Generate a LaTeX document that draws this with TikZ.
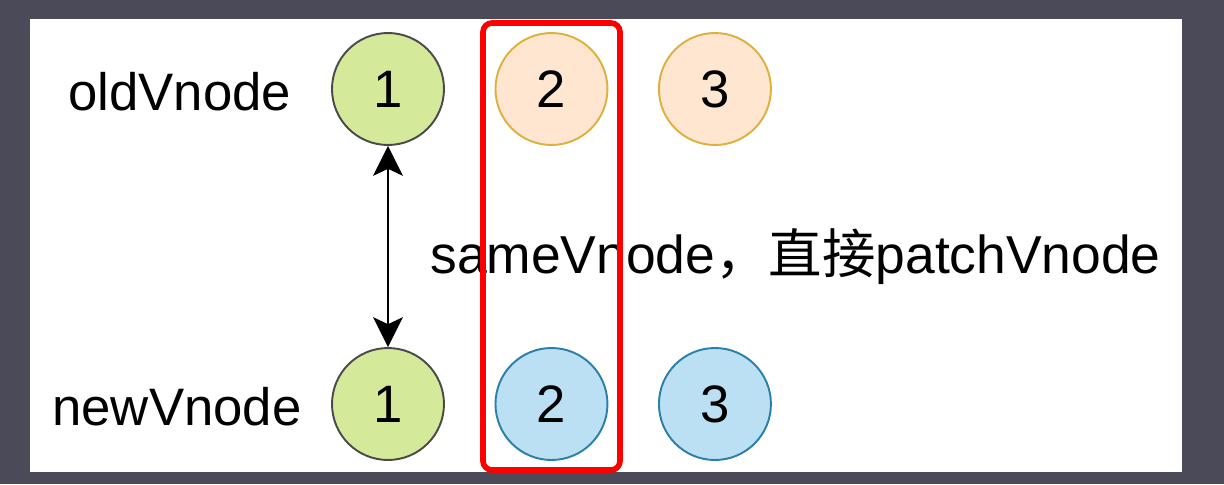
\documentclass[tikz,border=0pt]{standalone}
\usepackage{fontspec}
\setmainfont{Liberation Sans}
\newfontfamily\cjk{Noto Sans CJK SC}
\usepackage{tikz}
\usetikzlibrary{arrows.meta, positioning}

\definecolor{bgdark}{HTML}{4A4A58}
\definecolor{greenfill}{HTML}{D5E99B}
\definecolor{greenline}{HTML}{4A4A4A}
\definecolor{peachfill}{HTML}{FFE6D0}
\definecolor{peachline}{HTML}{DDB040}
\definecolor{bluefill}{HTML}{BCE0F3}
\definecolor{blueline}{HTML}{2A80A8}

\begin{document}
\begin{tikzpicture}[x=0.02cm,y=-0.02cm,node distance=3.27cm,on grid,
        font=\fontsize{30}{36}\selectfont,
        >={Stealth[length=17pt,width=17pt,inset=4pt]},
        vnode/.style={circle,minimum size=2.24cm,inner sep=0pt,line width=1.1pt},
        samev/.style={vnode,draw=greenline,fill=greenfill},
        oldv/.style={vnode,draw=peachline,fill=peachfill},
        newv/.style={vnode,draw=blueline,fill=bluefill},
        label/.style={inner sep=0pt,anchor=base west},
        redbox/.style={draw=red,line width=3.2pt,rounded corners=0.18cm}]
        \useasboundingbox (0,0) rectangle (1224,484);
        \fill[bgdark] (0,0) rectangle (1224,484);
        \fill[white] (30,19) rectangle (1182,472);

        \node[label] (oldlbl) at (68,110) {oldVnode};
        \node[label] (newlbl) at (52,425) {newVnode};

        \node[samev] (o1) at (388,89) {1};
        \node[oldv]  (o2) [right=of o1] {2};
        \node[oldv]  (o3) [right=of o2] {3};

        \node[samev] (n1) at (388,404) {1};
        \node[newv]  (n2) [right=of n1] {2};
        \node[newv]  (n3) [right=of n2] {3};

        \draw[<->,line width=1.2pt] (o1) -- (n1);

        \node[label,font=\fontsize{30.4}{36}\selectfont] (msg) at (430,273)
        {sameVnode{\cjk ，直接}patchVnode};

        \draw[redbox] (483,23) rectangle (620,470);
    \end{tikzpicture}
\end{document}
